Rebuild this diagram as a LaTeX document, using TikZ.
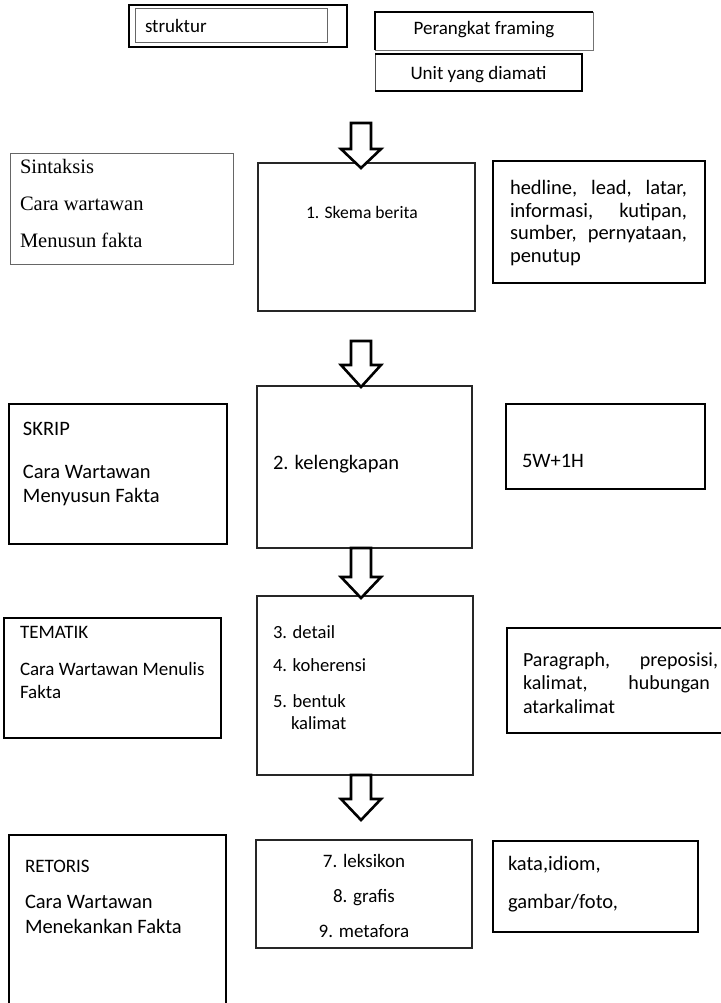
\documentclass[tikz,border=0pt]{standalone}
\usepackage{fontspec}
\newfontfamily\calfont{Carlito}
\newfontfamily\serfont{Liberation Serif}
\begin{document}
\begin{tikzpicture}[x=1pt,y=-1pt,
  box/.style={inner sep=0pt, outer sep=0pt, anchor=north west},
  thinbox/.style={box, draw=black!85, line width=1.1pt},
  greybox/.style={box, draw=black!60, line width=1pt},
  thickbox/.style={box, draw=black, line width=2.8pt},
  txt/.style={inner sep=0pt, outer sep=0pt, anchor=base west, font=\calfont\fontsize{20.5}{24}\selectfont},
  ctxt/.style={txt, anchor=base},
  sertxt/.style={txt, font=\serfont\fontsize{20.5}{24}\selectfont},
  fsA/.style={font=\calfont\fontsize{19}{22}\selectfont},
  fsB/.style={font=\calfont\fontsize{17.6}{20}\selectfont},
  fsC/.style={font=\calfont\fontsize{18.6}{22}\selectfont},
  fsD/.style={font=\calfont\fontsize{20}{23}\selectfont},
  arrowline/.style={draw=black, line width=2.6pt, fill=white, line join=miter},
  pics/blockdown/.style n args={2}{code={\draw[arrowline] (-10,0) -- (-10,#1) -- (-20,#1) -- (0,#2) -- (20,#1) -- (10,#1) -- (10,0) -- cycle;}}
]
\useasboundingbox[fill=white] (0,0) rectangle (720,1003);

% ---- top legend ----
\node[thickbox, minimum width=218pt, minimum height=42pt] (strukturout) at (129,5) {};
\node[greybox, line width=0.9pt, minimum width=192pt, minimum height=34pt] (strukturin) at (135.5,8.5) {};
\node[txt, fsA] (strukturtxt) at (145,33) {struktur};

\node[box, draw=black!55, line width=0.8pt, minimum width=218pt, minimum height=38pt] (pf) at (375,12) {};
\draw[line width=2pt, line cap=square] (pf.south west) -- (pf.north west) -- (pf.north east);
\node[ctxt, fsA] (pftxt) at (484,35) {Perangkat framing};

\node[box, draw=black!70, line width=0.8pt, minimum width=207pt, minimum height=37pt] (unit) at (375,54) {};
\draw[line width=2pt, line cap=square] (unit.north west) -- (unit.north east) -- (unit.south east) -- (unit.south west);
\node[ctxt, fsA] (unittxt) at (478.5,79.5) {Unit yang diamati};

% ---- row 1 ----
\node[greybox, minimum width=223pt, minimum height=110pt] (sin) at (10,154) {};
\node[sertxt] (sin1) at (20,174) {Sintaksis};
\node[sertxt] (sin2) at (20,211) {Cara wartawan};
\node[sertxt] (sin3) at (20,247) {Menusun fakta};

\node[thinbox, minimum width=217pt, minimum height=148pt] (skema) at (258,163) {};
\node[txt, fsB] (skematxt) at (306,218) {1. Skema berita};

\node[thickbox, minimum width=212pt, minimum height=122pt] (hed) at (493,161) {};
\node[txt] (hed1) at (510,194) {\makebox[177pt][s]{hedline, lead, latar,}};
\node[txt] (hed2) at (510,217) {\makebox[177pt][s]{informasi, kutipan,}};
\node[txt] (hed3) at (510,239) {\makebox[177pt][s]{sumber, pernyataan,}};
\node[txt] (hed4) at (510,262) {penutup};

% ---- row 2 ----
\node[thickbox, minimum width=218pt, minimum height=140pt] (skrip) at (9,404) {};
\node[txt] (skrip1) at (23,435) {SKRIP};
\node[txt] (skrip2) at (23,478) {Cara Wartawan};
\node[txt] (skrip3) at (23,502) {Menyusun Fakta};

\node[thinbox, minimum width=215pt, minimum height=162pt] (kel) at (257,386) {};
\node[txt] (keltxt) at (273,469) {2. kelengkapan};

\node[thickbox, minimum width=199pt, minimum height=85pt] (w5) at (506,404) {};
\node[txt] (w5txt) at (522,467) {5W+1H};

% ---- row 3 ----
\node[thickbox, minimum width=217pt, minimum height=120pt] (tem) at (4,618) {};
\node[txt, fsA] (tem1) at (20,638) {TEMATIK};
\node[txt, fsA] (tem2) at (20,675) {Cara Wartawan Menulis};
\node[txt, fsA] (tem3) at (20,698) {Fakta};

\node[thinbox, minimum width=216pt, minimum height=179pt] (det) at (257,596) {};
\node[txt, fsC] (det1) at (273,638) {3. detail};
\node[txt, fsC] (det2) at (273,671) {4. koherensi};
\node[txt, fsC] (det3) at (273,707) {5. bentuk};
\node[txt, fsC] (det4) at (291,729) {kalimat};

\node[thickbox, minimum width=223pt, minimum height=105pt] (par) at (507,628) {};
\node[txt, fsD] (par1) at (523,666) {\makebox[195pt][s]{Paragraph, preposisi,}};
\node[txt, fsD] (par2) at (523,689) {\makebox[187pt][s]{kalimat, hubungan}};
\node[txt, fsD] (par3) at (523,713) {atarkalimat};

% ---- row 4 ----
\node[thickbox, minimum width=217pt, minimum height=180pt] (ret) at (9,835) {};
\node[txt, fsA] (ret1) at (25,872) {RETORIS};
\node[txt] (ret2) at (25,908) {Cara Wartawan};
\node[txt] (ret3) at (25,933) {Menekankan Fakta};

\node[thinbox, minimum width=216pt, minimum height=108pt] (lek) at (256,840) {};
\node[ctxt, fsA] (lek1) at (364,867) {7. leksikon};
\node[ctxt, fsA] (lek2) at (364,902) {8. grafis};
\node[ctxt, fsA] (lek3) at (364,937) {9. metafora};

\node[thickbox, minimum width=205pt, minimum height=91pt] (kata) at (493,841) {};
\node[txt] (kata1) at (508,870) {kata,idiom,};
\node[txt] (kata2) at (508,908) {gambar/foto,};

% ---- block arrows ----
\coordinate (ar1) at (361,123);
\coordinate (ar2) at (361,341);
\coordinate (ar3) at (361,548);
\coordinate (ar4) at (361,775);
\pic at (ar1) {blockdown={26}{45}};
\pic at (ar2) {blockdown={24}{46}};
\pic at (ar3) {blockdown={29}{50}};
\pic at (ar4) {blockdown={24}{45}};
\end{tikzpicture}
\end{document}
